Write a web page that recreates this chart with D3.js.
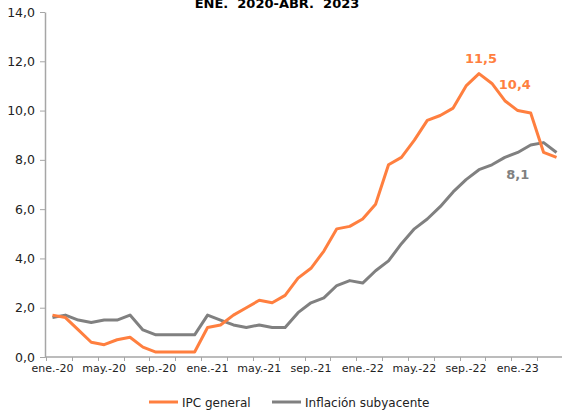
<!DOCTYPE html>
<html>
<head>
<meta charset="utf-8">
<script src="https://cdn.jsdelivr.net/npm/d3@7"></script>
<style>
  body { margin: 0; background: #fff; }
  text { font-family: "DejaVu Sans", Verdana, sans-serif; }
</style>
</head>
<body>
<div id="chart"></div>
<script>
// Data: monthly, ene. 2020 - abr. 2023
var monthNames = ["ene.", "feb.", "mar.", "abr.", "may.", "jun.", "jul.", "ago.", "sep.", "oct.", "nov.", "dic."];
var years = ["20", "21", "22", "23"];
var months = [];
years.forEach(function (yy) {
    monthNames.forEach(function (m) { months.push(m + "-" + yy); });
});
months = months.slice(0, 40);

var ipcGeneral = [1.7, 1.6, 1.1, 0.6, 0.5, 0.7, 0.8, 0.4, 0.2, 0.2,
                  0.2, 0.2, 1.2, 1.3, 1.7, 2.0, 2.3, 2.2, 2.5, 3.2,
                  3.6, 4.3, 5.2, 5.3, 5.6, 6.2, 7.8, 8.1, 8.8, 9.6,
                  9.8, 10.1, 11.0, 11.5, 11.1, 10.4, 10.0, 9.9, 8.3, 8.1];
var subyacente = [1.6, 1.7, 1.5, 1.4, 1.5, 1.5, 1.7, 1.1, 0.9, 0.9,
                  0.9, 0.9, 1.7, 1.5, 1.3, 1.2, 1.3, 1.2, 1.2, 1.8,
                  2.2, 2.4, 2.9, 3.1, 3.0, 3.5, 3.9, 4.6, 5.2, 5.6,
                  6.1, 6.7, 7.2, 7.6, 7.8, 8.1, 8.3, 8.6, 8.7, 8.3];
var yTicks = [0, 2, 4, 6, 8, 10, 12, 14];
var xLabelEvery = 4;

var svgWidth = 562;
var svgHeight = 413;

var svg = d3.select("#chart")
    .append("svg")
    .attr("width", svgWidth)
    .attr("height", svgHeight);

// scales
var xScale = d3.scaleBand()
    .domain(months)
    .range([46, 563])
    .paddingInner(0)
    .paddingOuter(0);
var yScale = d3.scaleLinear()
    .domain([0, 14])
    .range([357, 12]);

var xc = function (i) { return xScale(months[i]) + xScale.bandwidth() / 2; };

// title (cut off at the top in the original)
svg.append("text")
    .attr("x", 277)
    .attr("y", 8)
    .attr("text-anchor", "middle")
    .attr("font-size", "13px")
    .attr("font-weight", "bold")
    .attr("fill", "#000")
    .style("white-space", "pre")
    .text("ENE.  2020-ABR.  2023");

// y axis
var leftAxis = d3.axisLeft(yScale)
    .tickValues(yTicks)
    .tickSizeInner(5)
    .tickSizeOuter(0)
    .tickPadding(5)
    .tickFormat(function (d) { return d.toFixed(1).replace(".", ","); });

var yAxisG = svg.append("g")
    .attr("transform", "translate(45,0)")
    .call(leftAxis);
yAxisG.select(".domain").attr("stroke", "#a6a6a6").attr("stroke-width", 1.5);
yAxisG.selectAll(".tick line").attr("stroke", "#a6a6a6");
yAxisG.selectAll(".tick text")
    .attr("font-size", "12.5px")
    .attr("fill", "#222")
    .attr("font-family", "DejaVu Sans, Verdana, sans-serif");

// x axis line + ticks at category boundaries every 2 months
svg.append("line")
    .attr("x1", 45).attr("x2", 563)
    .attr("y1", yScale(0)).attr("y2", yScale(0))
    .attr("stroke", "#a6a6a6")
    .attr("stroke-width", 1.5);

var tickIdx = d3.range(0, months.length, 2);
svg.selectAll(".xtick")
    .data(tickIdx)
    .enter()
    .append("line")
    .attr("class", "xtick")
    .attr("x1", function (i) { return Math.round(xScale(months[i])) + 0.5; })
    .attr("x2", function (i) { return Math.round(xScale(months[i])) + 0.5; })
    .attr("y1", yScale(0))
    .attr("y2", yScale(0) + 4)
    .attr("stroke", "#a6a6a6");

svg.selectAll(".xlabel")
    .data(months.filter(function (d, i) { return i % xLabelEvery === 0; }))
    .enter()
    .append("text")
    .attr("class", "xlabel")
    .attr("x", function (d) { return xScale(d) + xScale.bandwidth() / 2; })
    .attr("y", 372)
    .attr("text-anchor", "middle")
    .attr("font-size", "11px")
    .attr("fill", "#222")
    .text(function (d) { return d; });

// lines
var line = d3.line()
    .x(function (d, i) { return xc(i); })
    .y(function (d) { return yScale(d); });

svg.append("path")
    .datum(subyacente)
    .attr("d", line)
    .attr("fill", "none")
    .attr("stroke", "#808080")
    .attr("stroke-width", 3)
    .attr("stroke-linejoin", "round");

svg.append("path")
    .datum(ipcGeneral)
    .attr("d", line)
    .attr("fill", "none")
    .attr("stroke", "#ff7f3f")
    .attr("stroke-width", 3)
    .attr("stroke-linejoin", "round");

// value labels
var valueLabels = [
    { series: ipcGeneral, i: 33, dx: 2, dy: -11, color: "#ff7f3f" },
    { series: ipcGeneral, i: 35, dx: 10, dy: -12, color: "#ff7f3f" },
    { series: subyacente, i: 35, dx: 13, dy: 22, color: "#808080" }
];
svg.selectAll(".vlabel")
    .data(valueLabels)
    .enter()
    .append("text")
    .attr("class", "vlabel")
    .attr("x", function (d) { return xc(d.i) + d.dx; })
    .attr("y", function (d) { return yScale(d.series[d.i]) + d.dy; })
    .attr("text-anchor", "middle")
    .attr("font-size", "13px")
    .attr("font-weight", "bold")
    .attr("fill", function (d) { return d.color; })
    .text(function (d) { return d.series[d.i].toFixed(1).replace(".", ","); });

// legend
var legend = [
    { name: "IPC general", color: "#ff7f3f", x: 149 },
    { name: "Inflación subyacente", color: "#808080", x: 272 }
];
var lg = svg.selectAll(".legend")
    .data(legend)
    .enter()
    .append("g")
    .attr("class", "legend")
    .attr("transform", function (d) { return "translate(" + d.x + ",402)"; });
lg.append("line")
    .attr("x1", 0).attr("x2", 29)
    .attr("stroke", function (d) { return d.color; })
    .attr("stroke-width", 3);
lg.append("text")
    .attr("x", 33)
    .attr("y", 5)
    .attr("font-size", "12px")
    .attr("fill", "#222")
    .text(function (d) { return d.name; });
</script>
</body>
</html>
